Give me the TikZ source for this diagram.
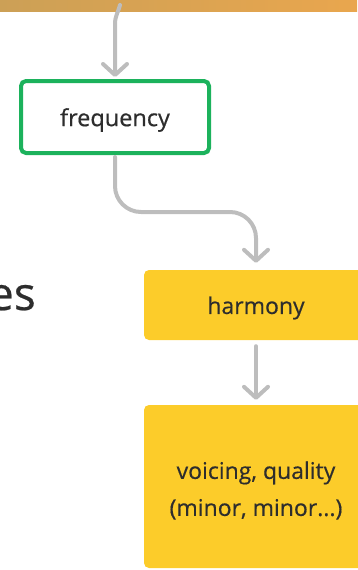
\documentclass[tikz,border=0pt]{standalone}
\usepackage{fontspec}
\setmainfont{Open Sans}
\newfontfamily\mainfnt{Open Sans}[FakeBold=0.5]
\usetikzlibrary{arrows.meta}
\definecolor{barL}{RGB}{204,160,86}
\definecolor{barR}{RGB}{233,166,78}
\definecolor{arrowgray}{RGB}{189,189,189}
\definecolor{boxgreen}{RGB}{28,178,92}
\definecolor{boxyellow}{RGB}{252,204,42}
\definecolor{txt}{RGB}{45,45,45}
\newcommand{\lowr}[2]{\raisebox{-#1}[\height][\depth]{#2}}
\tikzset{
  conn/.style={draw=arrowgray, line width=4pt, line cap=round,
    -{Straight Barb[length=11pt, width=24pt, line width=4pt, round]}},
  freqbox/.style={draw=boxgreen, line width=4pt, fill=white, rounded corners=5pt,
    minimum width=188pt, minimum height=72pt, text=txt, font=\mainfnt\fontsize{23.5}{28}\selectfont},
  yelbox/.style={fill=boxyellow, rounded corners=5pt, minimum width=224pt,
    text=txt, font=\mainfnt\fontsize{23}{37}\selectfont, align=center},
}
\begin{document}
\begin{tikzpicture}[x=1pt,y=-1pt]
\useasboundingbox (0,0) rectangle (357,570);
\shade[left color=barL, right color=barR] (0,-2) rectangle (357,11);
\coordinate (topstart) at (120,5);
\node[freqbox] (freq) at (115,117) {\lowr{3pt}{frequency}};
\node[yelbox, minimum height=70pt] (harm) at (256,305) {\lowr{3pt}{harmony}};
\node[yelbox, minimum height=163pt] (voice) at (256,486.5) {\lowr{4pt}{voicing, quality}\\\lowr{4pt}{(minor, minor...)}};
\node[anchor=base east, text=txt, font=\mainfnt\fontsize{46}{50}\selectfont, inner sep=0pt] (es) at (36,310) {es};
\draw[conn, shorten >=2pt] (topstart) to[out=-105, in=90] (115,24) -- (freq.north);
\draw[conn, rounded corners=26pt, shorten <=2pt, shorten >=7pt] (freq.south) |- (190,212) -| (harm.north);
\draw[conn, shorten <=6pt, shorten >=5pt] (harm.south) -- (voice.north);
\end{tikzpicture}
\end{document}
